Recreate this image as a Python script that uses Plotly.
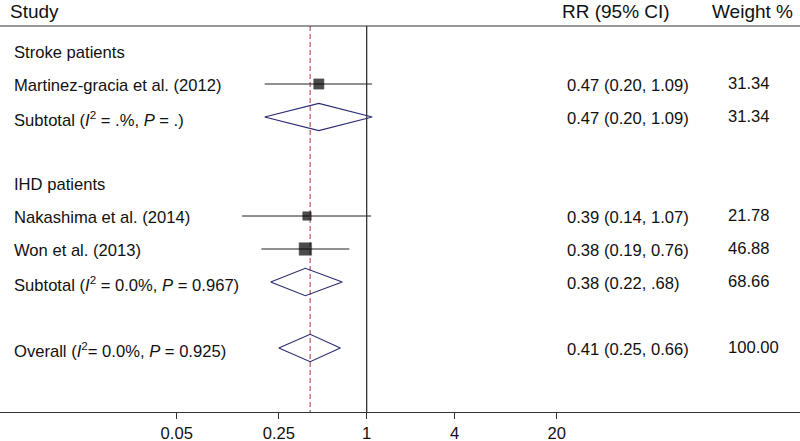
import plotly.graph_objects as go

# ---- data ----
study_labels = ["Martinez-gracia et al. (2012)", "Nakashima et al. (2014)", "Won et al. (2013)"]
study_rows = [2, 6, 7]
study_rr = [0.47, 0.39, 0.38]
study_lo = [0.20, 0.14, 0.19]
study_hi = [1.09, 1.07, 0.76]
study_weight = [31.34, 21.78, 46.88]
study_ci_text = ["0.47 (0.20, 1.09)", "0.39 (0.14, 1.07)", "0.38 (0.19, 0.76)"]
study_w_text = ["31.34", "21.78", "46.88"]

pooled_labels = ["Subtotal (<i>I</i><sup>2</sup> = .%, <i>P</i> = .)",
                 "Subtotal (<i>I</i><sup>2</sup> = 0.0%, <i>P</i> = 0.967)",
                 "Overall (<i>I</i><sup>2</sup>= 0.0%, <i>P</i> = 0.925)"]
pooled_rows = [3, 8, 10]
pooled_rr = [0.47, 0.38, 0.41]
pooled_lo = [0.20, 0.22, 0.25]
pooled_hi = [1.09, 0.68, 0.66]
pooled_ci_text = ["0.47 (0.20, 1.09)", "0.38 (0.22, .68)", "0.41 (0.25, 0.66)"]
pooled_w_text = ["31.34", "68.66", "100.00"]

group_labels = ["Stroke patients", "IHD patients"]
group_rows = [1, 5]

header_labels = ["Study", "RR (95% CI)", "Weight %"]

overall_rr = 0.41
tick_vals = [0.05, 0.25, 1, 4, 20]
tick_text = ["0.05", "0.25", "1", "4", "20"]

# ---- layout helpers ----
W, H = 800, 441
TOP, BOT = 26, 412
ROW0, ROWH = 18, 33


def row_of(py):
    return (py - ROW0) / ROWH


y_top = row_of(TOP)
y_bot = row_of(BOT)
FONT = "Liberation Sans, Arial, Helvetica, sans-serif"
TXT = "#111111"
BODY = 16.6
HEAD = 19
TSHIFT = 1.5 / ROWH  # text sits a touch below the marks' row centre

fig = go.Figure()

# reference line at 1
fig.add_trace(go.Scatter(x=[1, 1], y=[y_top, y_bot], mode="lines",
                         line=dict(color="#222222", width=1.2), hoverinfo="skip"))
# overall dashed line
fig.add_trace(go.Scatter(x=[overall_rr, overall_rr], y=[y_top, y_bot], mode="lines",
                         line=dict(color="#b05a5a", width=1.2, dash="5px,3px"), hoverinfo="skip"))

# CI lines
for r, lo, hi in zip(study_rows, study_lo, study_hi):
    fig.add_trace(go.Scatter(x=[lo, hi], y=[r, r], mode="lines",
                             line=dict(color="#222222", width=1), hoverinfo="skip"))

# squares (area proportional to weight)
sizes = [12.5 * (w / max(study_weight)) ** 0.5 for w in study_weight]
fig.add_trace(go.Scatter(x=study_rr, y=study_rows, mode="markers",
                         marker=dict(symbol="square", size=sizes, color="black",
                                     line=dict(width=0.5, color="black")), hoverinfo="skip"))

# diamonds
dh = 13.7 / ROWH
for r, est, lo, hi in zip(pooled_rows, pooled_rr, pooled_lo, pooled_hi):
    fig.add_trace(go.Scatter(x=[lo, est, hi, est, lo], y=[r, r - dh, r, r + dh, r],
                             mode="lines", line=dict(color="#2b2b72", width=1.2),
                             hoverinfo="skip"))

ann = []


def txt(x_px, row, s, size=BODY):
    ann.append(dict(x=x_px / W, xref="paper", y=row + TSHIFT, yref="y", text=s,
                    showarrow=False, xanchor="left", yanchor="middle",
                    font=dict(family=FONT, size=size, color=TXT)))


# headers (paper coords, above the top rule)
hy_paper = (BOT - 11) / (BOT - TOP)
for x_px, s in zip([8, 560, 710], header_labels):
    ann.append(dict(x=x_px / W, xref="paper", y=hy_paper, yref="paper", text=s,
                    showarrow=False, xanchor="left", yanchor="middle",
                    font=dict(family=FONT, size=HEAD, color=TXT)))

for lab, r in zip(group_labels, group_rows):
    txt(12, r, lab)
for lab, r, ci, w in zip(study_labels, study_rows, study_ci_text, study_w_text):
    txt(12, r, lab)
    txt(565, r, ci)
    txt(726, r - 0.05, w)
for lab, r, ci, w in zip(pooled_labels, pooled_rows, pooled_ci_text, pooled_w_text):
    txt(12, r, lab)
    txt(565, r, ci)
    txt(726, r - 0.05, w)

# top rule
fig.add_shape(type="line", xref="paper", yref="paper", x0=0, x1=1, y0=1, y1=1,
              line=dict(color="#333333", width=1.2))

xr_lo = -366.7 / 146.0
xr_hi = (800 - 366.7) / 146.0

fig.update_layout(
    width=W, height=H,
    margin=dict(l=0, r=0, t=TOP, b=H - BOT, autoexpand=False),
    paper_bgcolor="white", plot_bgcolor="white",
    showlegend=False,
    annotations=ann,
    xaxis=dict(type="log", range=[xr_lo, xr_hi], tickvals=tick_vals, ticktext=tick_text,
               showgrid=False, zeroline=False, showline=True, linecolor="#333333",
               linewidth=1.2, ticks="outside", ticklen=6, tickcolor="#333333",
               ticklabelstandoff=0, automargin=False,
               tickfont=dict(family=FONT, size=BODY, color=TXT), fixedrange=True),
    yaxis=dict(range=[y_bot, y_top], showgrid=False, zeroline=False, showticklabels=False,
               showline=False, fixedrange=True, automargin=False),
)

fig.write_html("out.html", config={"displayModeBar": False},
               post_script="document.body.style.margin='0';document.body.style.overflow='hidden';")
